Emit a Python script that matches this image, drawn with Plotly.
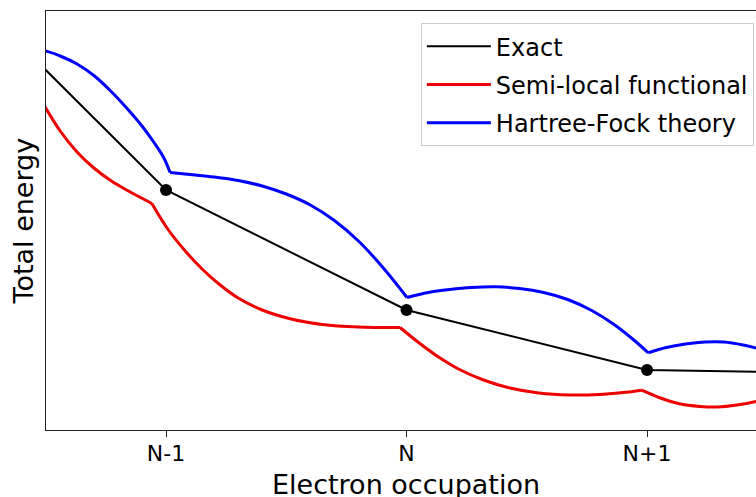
import plotly.graph_objects as go

# Electron occupation axis: N-1, N, N+1 placed at 1, 2, 3
tick_vals = [1, 2, 3]
tick_text = ["N-1", "N", "N+1"]

# Exact total energy: piecewise linear between integer occupations
exact_occ = [0, 1, 2, 3, 4]
exact_energy = [48.0, 24.0, 12.0, 6.0, 5.6]
dot_occ = [1, 2, 3]
dot_energy = [24.0, 12.0, 6.0]

# Semi-local functional (convex between integers), one list per segment
semi_x_a = [0.49, 0.56, 0.63, 0.70, 0.77, 0.84, 0.91, 0.941]
semi_y_a = [32.6, 29.9, 27.8, 26.2, 24.95, 23.95, 23.05, 22.65]
semi_x_b = [0.941, 1.01, 1.08, 1.15, 1.22, 1.30, 1.40, 1.52, 1.65, 1.80, 1.973]
semi_y_b = [22.65, 20.0, 17.9, 16.1, 14.6, 13.2, 12.0, 11.1, 10.55, 10.3, 10.25]
semi_x_c = [1.973, 2.05, 2.13, 2.22, 2.32, 2.43, 2.55, 2.68, 2.80, 2.90, 2.978]
semi_y_c = [10.25, 8.75, 7.35, 6.05, 5.0, 4.2, 3.7, 3.5, 3.55, 3.75, 3.98]
semi_x_d = [2.978, 3.05, 3.13, 3.22, 3.31, 3.40, 3.47]
semi_y_d = [3.98, 3.25, 2.65, 2.36, 2.33, 2.6, 2.95]

# Hartree-Fock theory (concave between integers)
hf_x_a = [0.49, 0.56, 0.63, 0.70, 0.77, 0.84, 0.90, 0.95, 0.99, 1.017]
hf_y_a = [37.98, 37.4, 36.6, 35.45, 33.9, 32.1, 30.4, 28.75, 27.25, 25.75]
hf_x_b = [1.017, 1.10, 1.20, 1.30, 1.40, 1.50, 1.60, 1.70, 1.80, 1.90, 2.002]
hf_y_b = [25.75, 25.55, 25.3, 24.95, 24.4, 23.6, 22.5, 20.95, 18.9, 16.3, 13.25]
hf_x_c = [2.002, 2.09, 2.18, 2.27, 2.37, 2.47, 2.57, 2.67, 2.77, 2.86, 2.94, 3.005]
hf_y_c = [13.25, 13.75, 14.05, 14.25, 14.32, 14.15, 13.75, 13.05, 11.95, 10.6, 9.1, 7.72]
hf_x_d = [3.005, 3.08, 3.16, 3.24, 3.32, 3.40, 3.47]
hf_y_d = [7.72, 8.25, 8.6, 8.8, 8.8, 8.5, 8.1]


def join(*segs):
    """Concatenate segments with None gaps so each is smoothed on its own."""
    out = []
    for i, s in enumerate(segs):
        if i:
            out.append(None)
        out.extend(s)
    return out


FONT = "DejaVu Sans"
RED = "#ee0000"
BLUE = "#0000ff"

fig = go.Figure()
fig.add_trace(go.Scatter(
    x=exact_occ, y=exact_energy, mode="lines", name="Exact",
    line=dict(color="black", width=2), legendgroup="a"))
fig.add_trace(go.Scatter(
    x=join(semi_x_a, semi_x_b, semi_x_c, semi_x_d),
    y=join(semi_y_a, semi_y_b, semi_y_c, semi_y_d),
    mode="lines", name="Semi-local functional",
    line=dict(color=RED, width=3, shape="spline", smoothing=1.0),
    connectgaps=False, legendgroup="b"))
fig.add_trace(go.Scatter(
    x=join(hf_x_a, hf_x_b, hf_x_c, hf_x_d),
    y=join(hf_y_a, hf_y_b, hf_y_c, hf_y_d),
    mode="lines", name="Hartree-Fock theory",
    line=dict(color=BLUE, width=3, shape="spline", smoothing=1.0),
    connectgaps=False, legendgroup="c"))
fig.add_trace(go.Scatter(
    x=dot_occ, y=dot_energy, mode="markers", showlegend=False,
    marker=dict(color="black", size=12), legendgroup="a"))

fig.update_layout(
    width=756, height=497,
    margin=dict(l=46, r=0, t=11, b=67),
    paper_bgcolor="white", plot_bgcolor="white",
    font=dict(family=FONT, color="black"),
    showlegend=True,
    legend=dict(
        x=0.997, y=0.971, xanchor="right", yanchor="top",
        bgcolor="rgba(255,255,255,0.8)", bordercolor="#cccccc", borderwidth=1,
        font=dict(family=FONT, size=24, color="black"),
        tracegroupgap=4, itemwidth=64,
    ),
    xaxis=dict(
        range=[0.501, 3.453], tickvals=tick_vals, ticktext=tick_text,
        showgrid=False, zeroline=False,
        showline=True, linecolor="#222222", linewidth=1.2, mirror=True,
        ticks="outside", ticklen=6, tickwidth=1.2, tickcolor="#222222",
        tickfont=dict(family=FONT, size=22, color="black"),
        ticklabelstandoff=-3,
    ),
    yaxis=dict(
        range=[0, 41.9], showticklabels=False, ticks="",
        showgrid=False, zeroline=False,
        showline=True, linecolor="#222222", linewidth=1.2, mirror=False,
    ),
    annotations=[
        dict(text="Electron occupation", xref="paper", yref="paper",
             x=0.507, y=-0.131, xanchor="center", yanchor="middle",
             showarrow=False, font=dict(family=FONT, size=27, color="black")),
        dict(text="Total energy", xref="paper", yref="paper",
             x=-0.031, y=0.5, xanchor="center", yanchor="middle",
             textangle=-90, showarrow=False,
             font=dict(family=FONT, size=27, color="black")),
    ],
)

fig.write_html("out.html")
